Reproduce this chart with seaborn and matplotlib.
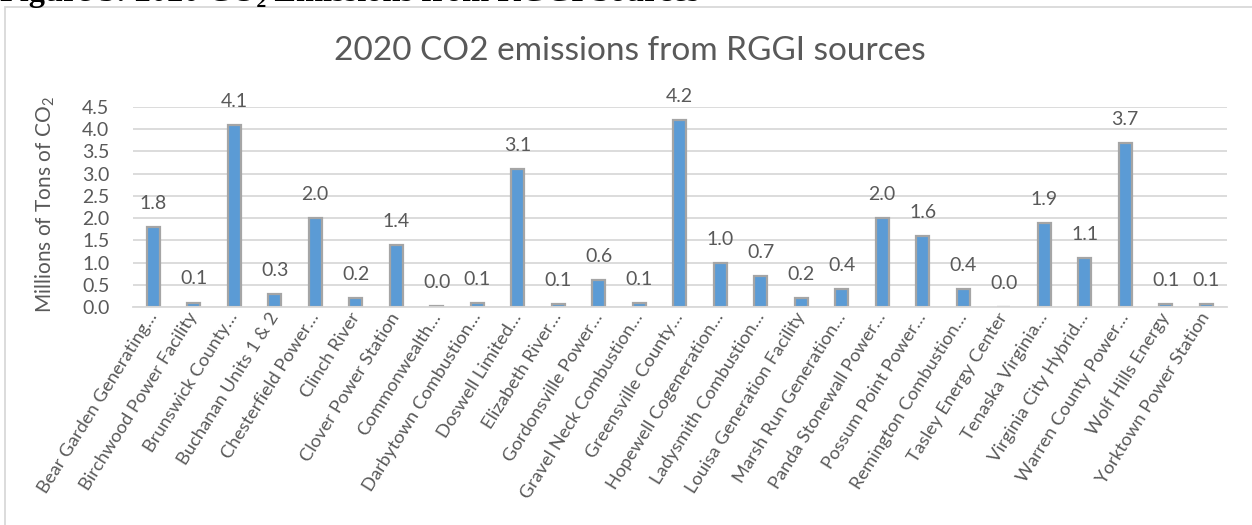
import matplotlib
matplotlib.use("Agg")
import matplotlib.pyplot as plt
import matplotlib.patches as mpatches
import seaborn as sns
import pandas as pd

# ---------------- data ----------------
facilities = [
    "Bear Garden Generating…", "Birchwood Power Facility", "Brunswick County…",
    "Buchanan Units 1 & 2", "Chesterfield Power…", "Clinch River",
    "Clover Power Station", "Commonwealth…", "Darbytown Combustion…",
    "Doswell Limited…", "Elizabeth River…", "Gordonsville Power…",
    "Gravel Neck Combustion…", "Greensville County…", "Hopewell Cogeneration…",
    "Ladysmith Combustion…", "Louisa Generation Facility", "Marsh Run Generation…",
    "Panda Stonewall Power…", "Possum Point Power…", "Remington Combustion…",
    "Tasley Energy Center", "Tenaska Virginia…", "Virginia City Hybrid…",
    "Warren County Power…", "Wolf Hills Energy", "Yorktown Power Station",
]
emissions = [
    1.80, 0.10, 4.10, 0.30, 2.00, 0.20, 1.40, 0.03, 0.08,
    3.10, 0.07, 0.60, 0.09, 4.20, 1.00, 0.70, 0.20, 0.40,
    2.00, 1.60, 0.40, 0.00, 1.90, 1.10, 3.70, 0.06, 0.06,
]
y_ticks = [0.0, 0.5, 1.0, 1.5, 2.0, 2.5, 3.0, 3.5, 4.0, 4.5]

title = "2020 CO2 emissions from RGGI sources"
caption = "Figure 3: 2020 CO\u2082 Emissions from RGGI Sources"
y_label = "Millions of Tons of CO$_{2}$"

# ---------------- style ----------------
sns.set_style("white")
plt.rcParams["font.family"] = ["Lato", "DejaVu Sans"]
plt.rcParams["mathtext.fontset"] = "custom"
plt.rcParams["mathtext.rm"] = "Lato"
plt.rcParams["mathtext.it"] = "Lato:italic"
plt.rcParams["mathtext.bf"] = "Lato:bold"

TXT = "#595959"
GRID = "#D9D9D9"
BAR = "#5B9BD5"
EDGE = "#A5A5A5"

W, H = 1252, 525
fig = plt.figure(figsize=(W / 100, H / 100), dpi=100)
fig.patch.set_facecolor("white")

left, right, bottom, top = 133, 1226.5, 307, 107
ax = fig.add_axes([left / W, 1 - bottom / H, (right - left) / W, (bottom - top) / H])

df = pd.DataFrame({"facility": facilities, "emissions": emissions})
sns.barplot(data=df, x="facility", y="emissions", color=BAR, edgecolor=EDGE,
            linewidth=1.6, width=0.33, saturation=1, ax=ax)

ax.set_ylim(0, 4.5)
ax.set_yticks(y_ticks)
ax.set_yticklabels([f"{t:.1f}" for t in y_ticks])
ax.set_xlim(-0.5, len(facilities) - 0.5)
ax.yaxis.grid(True, color=GRID, linewidth=1.3)
ax.set_axisbelow(True)
for s in ["left", "right", "top"]:
    ax.spines[s].set_visible(False)
ax.spines["bottom"].set_color(GRID)
ax.spines["bottom"].set_linewidth(1.3)
ax.tick_params(axis="y", length=0, pad=17, labelsize=14, labelcolor=TXT)
ax.tick_params(axis="x", length=0, pad=5, labelsize=13.2, labelcolor=TXT)
ax.set_xlabel("")
ax.set_ylabel("")
plt.setp(ax.get_xticklabels(), rotation=58, ha="right", va="center",
         rotation_mode="anchor")

for i, v in enumerate(emissions):
    ax.annotate(f"{v:.1f}", (i, v), xytext=(0, 13), textcoords="offset points",
                ha="center", va="baseline", fontsize=14, color=TXT)

# y label
fig.text(45 / W, 1 - 205 / H, y_label, rotation=90, ha="center", va="center",
         fontsize=15, color=TXT)

# chart title
fig.text(630 / W, 1 - 51 / H, title, ha="center", va="center", fontsize=24,
         color=TXT)

# chart frame (partially outside the canvas)
frame = mpatches.Rectangle((5 / W, -0.2), 1.5, 1.2 - 7 / H, transform=fig.transFigure,
                           fill=False, edgecolor=GRID, linewidth=1.3)
fig.patches.append(frame)

# document caption cut off at the top
fig.text(0 / W, 1 - 1 / H, caption, ha="left", va="baseline", fontsize=23.3,
         fontweight="bold", family=["Liberation Serif", "DejaVu Serif"], color="black")

fig.savefig("out.png", dpi=100)
